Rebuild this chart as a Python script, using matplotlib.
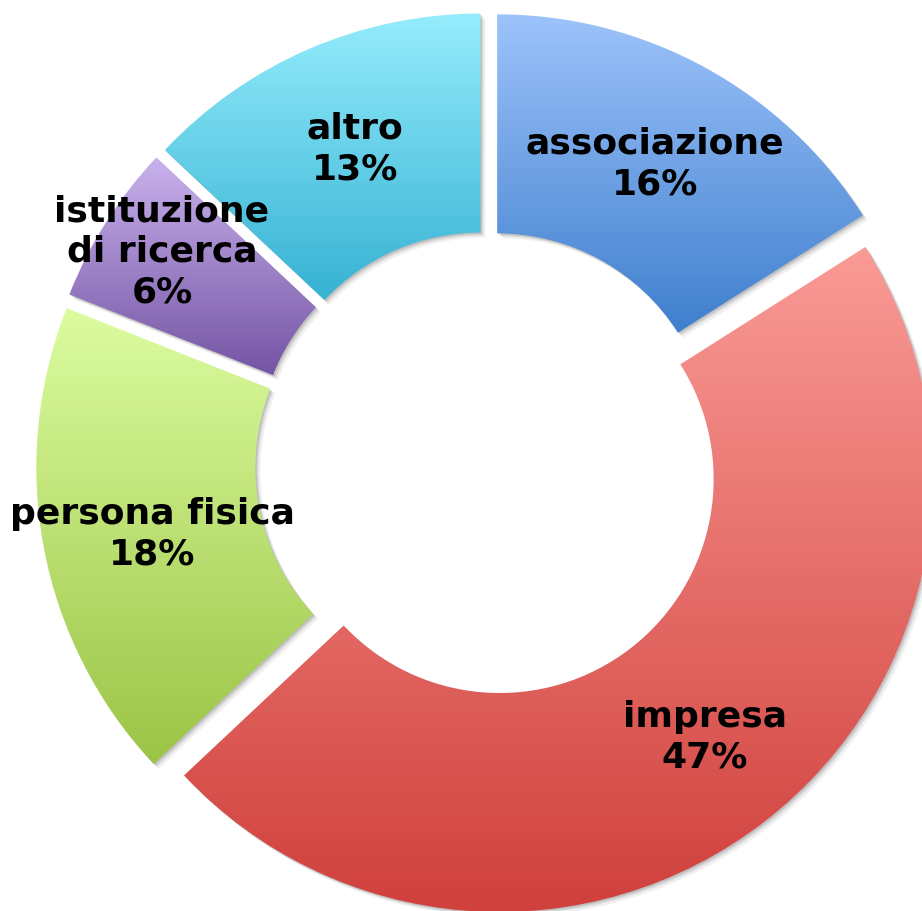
import matplotlib.pyplot as plt
import numpy as np
from matplotlib.colors import LinearSegmentedColormap
from matplotlib.patches import Wedge

# dati
categorie = ["associazione", "impresa", "persona fisica", "istituzione\ndi ricerca", "altro"]
percentuali = [16, 47, 18, 6, 13]
colori_alto = ["#9dc3fb", "#fa9b96", "#dcfca0", "#c9b2ec", "#95ecfc"]
colori_basso = ["#3f7fcd", "#d0403c", "#9bc446", "#7454a4", "#36b2d3"]

W, H = 922, 912
centro = (488, 447)
raggio = 433
spessore = 219
esplosione = 19  # in pixel (unità dati)

fig = plt.figure(figsize=(W / 100, H / 100), dpi=100)
ax = fig.add_axes([0, 0, 1, 1])

wedges, _ = ax.pie(percentuali, startangle=90, counterclock=False,
                   center=centro, radius=raggio,
                   explode=[esplosione] * len(percentuali),
                   wedgeprops=dict(width=spessore, linewidth=0))

for w, c_top, c_bot in zip(wedges, colori_alto, colori_basso):
    # ombra leggera
    for k, a in [(5, 0.06), (3, 0.09), (1.5, 0.12)]:
        ombra = Wedge((w.center[0] + k, w.center[1] - k), w.r, w.theta1, w.theta2,
                      width=w.width, facecolor="black", alpha=a, linewidth=0, zorder=0)
        ax.add_patch(ombra)
    w.set_facecolor("none")
    bb = w.get_path().get_extents()
    cmap = LinearSegmentedColormap.from_list("g", [c_bot, c_top])
    grad = np.linspace(0, 1, 256).reshape(-1, 1)
    img = ax.imshow(grad, cmap=cmap, origin="lower", aspect="auto",
                    extent=[bb.x0, bb.x1, bb.y0, bb.y1], zorder=1,
                    interpolation="bilinear")
    img.set_clip_path(w)

# etichette
etichette_pos = [(655, 164), (705, 737), (152, 534), (162, 252), (355, 149)]
for nome, p, (x, y) in zip(categorie, percentuali, etichette_pos):
    ax.text(x, H - y, f"{nome}\n{p}%", ha="center", va="center",
            fontsize=26, fontweight="bold", color="black", linespacing=1.25,
            family="DejaVu Sans", zorder=5)

ax.set_xlim(0, W)
ax.set_ylim(0, H)
ax.axis("off")
plt.savefig("out.png", dpi=100)
